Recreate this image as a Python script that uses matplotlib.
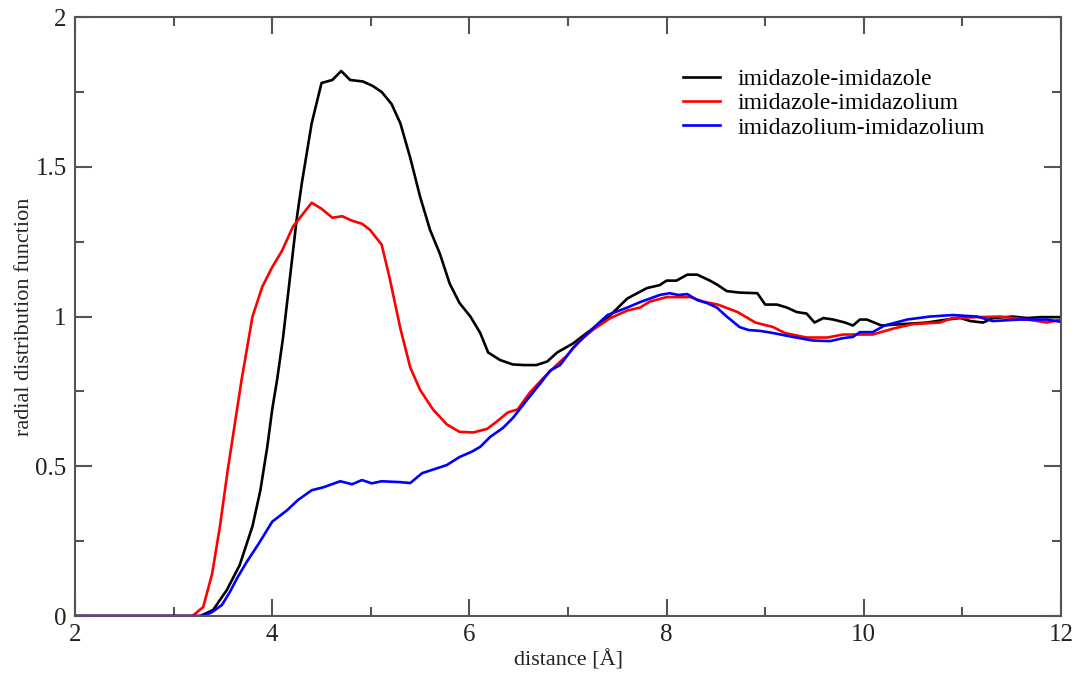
import matplotlib.pyplot as plt
from matplotlib.ticker import MultipleLocator

plt.rcParams['font.family'] = ['Liberation Serif', 'DejaVu Serif']

# imidazole-imidazole
r_black = [2.0, 3.1, 3.27, 3.4, 3.54, 3.67, 3.80, 3.88, 3.95, 4.0, 4.05, 4.11, 4.18, 4.25,
           4.30, 4.40, 4.50, 4.61, 4.70, 4.79, 4.92, 5.02, 5.11, 5.21, 5.30, 5.40, 5.50,
           5.60, 5.70, 5.80, 5.90, 6.01, 6.11, 6.19, 6.31, 6.44, 6.56, 6.68, 6.79, 6.89,
           7.05, 7.19, 7.40, 7.60, 7.80, 7.93, 8.0, 8.1, 8.21, 8.31, 8.44, 8.52, 8.61,
           8.74, 8.92, 9.0, 9.12, 9.22, 9.32, 9.42, 9.50, 9.59, 9.69, 9.81, 9.89, 9.96,
           10.03, 10.18, 10.40, 10.64, 10.84, 10.98, 11.08, 11.21, 11.31, 11.51, 11.66,
           11.79, 12.0]
g_black = [0.0, 0.0, 0.0, 0.02, 0.087, 0.17, 0.30, 0.42, 0.565, 0.69, 0.79, 0.93, 1.13, 1.33,
           1.445, 1.645, 1.78, 1.79, 1.82, 1.79, 1.785, 1.77, 1.75, 1.71, 1.645, 1.53, 1.40,
           1.29, 1.21, 1.11, 1.045, 1.0, 0.945, 0.88, 0.855, 0.84, 0.838, 0.838, 0.85, 0.88,
           0.91, 0.945, 0.995, 1.06, 1.095, 1.105, 1.12, 1.12, 1.14, 1.14, 1.12, 1.105, 1.085,
           1.08, 1.078, 1.04, 1.04, 1.03, 1.015, 1.01, 0.98, 0.995, 0.99, 0.98, 0.97, 0.99,
           0.99, 0.97, 0.975, 0.98, 0.99, 0.995, 0.985, 0.98, 0.995, 1.0, 0.995,
           0.998, 0.998]

# imidazole-imidazolium
r_red = [2.0, 3.1, 3.19, 3.30, 3.39, 3.47, 3.55, 3.62, 3.69, 3.80, 3.90, 4.0, 4.10, 4.21,
         4.40, 4.50, 4.61, 4.71, 4.81, 4.91, 4.99, 5.11, 5.19, 5.30, 5.40, 5.50, 5.63,
         5.77, 5.90, 6.04, 6.18, 6.28, 6.39, 6.49, 6.61, 6.75, 6.89, 6.99, 7.12, 7.25,
         7.43, 7.60, 7.73, 7.83, 8.0, 8.14, 8.24, 8.37, 8.52, 8.72, 8.90, 9.08, 9.20,
         9.42, 9.63, 9.79, 9.93, 10.09, 10.30, 10.50, 10.77, 10.90, 11.15, 11.38, 11.66,
         11.86, 12.0]
g_red = [0.0, 0.0, 0.0, 0.03, 0.14, 0.30, 0.49, 0.64, 0.79, 1.00, 1.10, 1.165, 1.22, 1.30,
         1.38, 1.36, 1.33, 1.335, 1.32, 1.31, 1.29, 1.24, 1.13, 0.96, 0.83, 0.755, 0.69,
         0.64, 0.615, 0.613, 0.625, 0.65, 0.68, 0.69, 0.745, 0.795, 0.84, 0.87, 0.92, 0.955,
         0.995, 1.02, 1.03, 1.05, 1.065, 1.065, 1.065, 1.05, 1.04, 1.015, 0.98, 0.965, 0.945,
         0.93, 0.93, 0.94, 0.94, 0.94, 0.96, 0.975, 0.98, 0.995, 0.998, 1.0, 0.99,
         0.98, 0.99]

# imidazolium-imidazolium
r_blue = [2.0, 3.2, 3.30, 3.39, 3.49, 3.57, 3.65, 3.74, 3.86, 4.0, 4.15, 4.26, 4.40, 4.52,
          4.69, 4.81, 4.91, 5.01, 5.11, 5.30, 5.40, 5.52, 5.77, 5.90, 6.02, 6.11, 6.21,
          6.34, 6.44, 6.58, 6.72, 6.82, 6.92, 7.05, 7.25, 7.40, 7.60, 7.73, 7.93, 8.03,
          8.12, 8.21, 8.31, 8.41, 8.51, 8.61, 8.74, 8.83, 8.95, 9.08, 9.28, 9.48, 9.66,
          9.79, 9.89, 9.96, 10.09, 10.21, 10.44, 10.67, 10.90, 11.15, 11.31, 11.58, 11.86,
          12.0]
g_blue = [0.0, 0.0, 0.0, 0.013, 0.037, 0.08, 0.13, 0.18, 0.24, 0.315, 0.353, 0.387, 0.42, 0.43,
          0.45, 0.44, 0.454, 0.443, 0.45, 0.447, 0.444, 0.477, 0.504, 0.531, 0.548, 0.565, 0.598,
          0.628, 0.661, 0.72, 0.777, 0.82, 0.838, 0.895, 0.96, 1.005, 1.03, 1.048, 1.072, 1.078,
          1.072, 1.075, 1.055, 1.045, 1.03, 1.0, 0.965, 0.955, 0.952, 0.945, 0.932, 0.92, 0.918,
          0.928, 0.932, 0.948, 0.948, 0.97, 0.99, 1.0, 1.005, 1.0, 0.985, 0.99, 0.99,
          0.982]

fig = plt.figure(figsize=(10.81, 6.84), dpi=100)
ax = fig.add_axes([0.0694, 0.0994, 0.9121, 0.8756])

ax.plot(r_black, g_black, color='black', lw=1.9, label='imidazole-imidazole')
ax.plot(r_red, g_red, color='#ff0000', lw=1.9, label='imidazole-imidazolium')
ax.plot(r_blue, g_blue, color='#0000ff', lw=1.9, label='imidazolium-imidazolium')

ax.set_xlim(2, 12)
ax.set_ylim(0, 2)
ax.xaxis.set_major_locator(MultipleLocator(2))
ax.xaxis.set_minor_locator(MultipleLocator(1))
ax.yaxis.set_major_locator(MultipleLocator(0.5))
ax.yaxis.set_minor_locator(MultipleLocator(0.25))
ax.set_yticks([0, 0.5, 1, 1.5, 2], ['0', '0.5', '1', '1.5', '2'])

for s in ax.spines.values():
    s.set_color('#555555')
    s.set_linewidth(1.5)
ax.tick_params(which='both', direction='in', top=True, right=True,
               color='#555555', width=1.5, labelsize=18, labelcolor='#222222')
ax.tick_params(which='major', length=12.5, pad=6)
ax.tick_params(which='minor', length=6.5)

ax.set_xlabel('distance [Å]', fontsize=16, color='#222222', labelpad=3)
ax.set_ylabel('radial distribution function', fontsize=16, color='#222222', labelpad=1)

ax.legend(loc='upper left', bbox_to_anchor=(0.607, 0.93), frameon=False,
          fontsize=17, handlelength=1.57, handletextpad=0.76, labelspacing=0.12,
          borderaxespad=0)

fig.savefig('out.png', dpi=100)
